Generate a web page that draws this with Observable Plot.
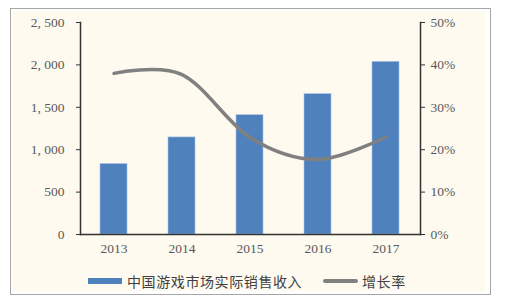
<!DOCTYPE html>
<html><head><meta charset="utf-8">
<script src="https://cdn.jsdelivr.net/npm/d3@7"></script>
<script src="https://cdn.jsdelivr.net/npm/@observablehq/plot@0.6"></script>
<style>
html,body{margin:0;padding:0;background:#fff;}
#wrap{position:relative;width:505px;height:307px;overflow:hidden;}
#border{position:absolute;left:10px;top:8px;width:481px;height:287px;border:1px solid #a6a6a6;box-sizing:border-box;}
#cream{position:absolute;left:12px;top:11px;width:473px;height:280px;background:#fefaef;}
#chart{position:absolute;left:0;top:0;}
#legend{position:absolute;left:0;top:272px;width:505px;height:20px;font-family:"Noto Sans CJK SC",sans-serif;font-size:14px;color:#404040;}
.sw{position:absolute;}
.lt{position:absolute;top:0;line-height:18px;letter-spacing:0.6px;}
</style></head>
<body><div id="wrap"><div id="border"></div><div id="cream"></div><div id="chart"></div>
<div id="legend"></div></div>
<script>
const years = ["2013","2014","2015","2016","2017"];
const revenue = [831.7, 1144.8, 1407.0, 1655.7, 2036.1];
const growth = [38.0, 37.7, 22.9, 17.7, 23.0];
const leftTicks = [0, 500, 1000, 1500, 2000, 2500];
const rightTicks = [0, 10, 20, 30, 40, 50];
const seriesNames = ["中国游戏市场实际销售收入", "增长率"];

const ratio = 2500 / 50;
const data = years.map((y, i) => ({year: y, revenue: revenue[i], growth: growth[i]}));
const fmtLeft = d => d >= 1000 ? Math.floor(d/1000) + ", " + String(d % 1000).padStart(3, "0") : String(d);

const plot = Plot.plot({
  width: 505, height: 262,
  marginLeft: 80, marginRight: 85, marginTop: 22, marginBottom: 28,
  style: {background: "transparent", fontFamily: "'Liberation Serif', serif", fontSize: "13.5px", color: "#595959"},
  x: {domain: years, paddingInner: 0.6, paddingOuter: 0.3, label: null},
  y: {domain: [0, 2500], label: null},
  marks: [
    Plot.barY(data, {x: "year", y: "revenue", fill: "#4f81bd", stroke: "#a9c4e6", strokeWidth: 0.6}),
    Plot.lineY(data, {x: "year", y: d => d.growth * ratio, stroke: "#808080", strokeWidth: 3.5, curve: "cardinal", tension: 0}),
    Plot.frame({anchor: "left", stroke: "#333", strokeWidth: 1.5}),
    Plot.frame({anchor: "right", stroke: "#333", strokeWidth: 1.5}),
    Plot.frame({anchor: "bottom", stroke: "#333", strokeWidth: 1.5}),
    Plot.axisY(leftTicks, {anchor: "left", tickSize: 4, tickPadding: 12, tickFormat: fmtLeft, stroke: "#333", fill: "#595959", label: null}),
    Plot.axisY(rightTicks.map(t => t * ratio), {anchor: "right", tickSize: 4, tickPadding: 6, tickFormat: d => (d / ratio) + "%", stroke: "#333", fill: "#595959", label: null}),
    Plot.axisX({tickSize: 0, tickPadding: 9, fill: "#595959", label: null})
  ]
});
document.getElementById("chart").appendChild(plot);

const lg = document.getElementById("legend");
lg.innerHTML =
  '<div class="sw" style="left:88px;top:6px;width:34px;height:6px;background:#4f81bd"></div>' +
  '<div class="lt" style="left:127px">' + seriesNames[0] + '</div>' +
  '<div class="sw" style="left:323px;top:7px;width:35px;height:4px;background:#808080;border-radius:2px"></div>' +
  '<div class="lt" style="left:362px">' + seriesNames[1] + '</div>';
</script></body></html>
